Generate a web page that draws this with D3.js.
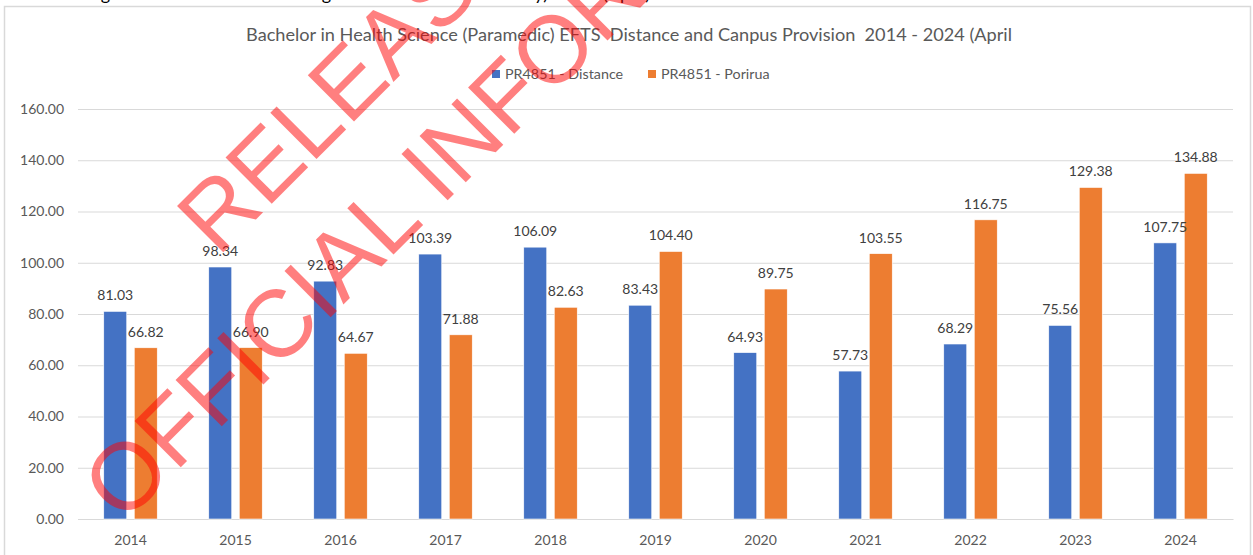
<!DOCTYPE html>
<html>
<head>
<meta charset="utf-8">
<script src="https://cdn.jsdelivr.net/npm/d3@7"></script>
<style>
  html, body { margin: 0; padding: 0; background: #fff; }
  svg { display: block; }
</style>
</head>
<body>
<svg id="chart" width="1253" height="555"></svg>
<script>
const categories = ["2014","2015","2016","2017","2018","2019","2020","2021","2022","2023","2024"];
const distance = [81.03, 98.34, 92.83, 103.39, 106.09, 83.43, 64.93, 57.73, 68.29, 75.56, 107.75];
const porirua  = [66.82, 66.90, 64.67, 71.88, 82.63, 104.40, 89.75, 103.55, 116.75, 129.38, 134.88];
const seriesNames = ["PR4851 - Distance", "PR4851 - Porirua"];
const yTicks = [0, 20, 40, 60, 80, 100, 120, 140, 160];
const titleText = "Bachelor in Health Science (Paramedic) EFTS  Distance and Canpus Provision  2014 - 2024 (April";

const colors = ["#4472C4", "#ED7D31"];
const svg = d3.select("#chart");
const m = {left: 78, right: 1233, top: 109, bottom: 519};
const font = "Lato, 'Liberation Sans', sans-serif";

// cut-off page text above the chart (only descenders visible)
const topText = svg.append("text").attr("y", -0.5).attr("font-family", font)
  .attr("font-size", 18).attr("fill", "#000").attr("text-anchor", "end");
[["Figure 4: Learning", 110], ["Nursing", 331], ["Delivery)", 548], ["(April)", 650]].forEach(([t, x]) => {
  topText.append("tspan").attr("x", x).text(t);
});

// chart border
svg.append("rect").attr("x", 4.5).attr("y", 6.5).attr("width", 1246).attr("height", 570)
  .attr("fill", "#fff").attr("stroke", "#d9d9d9").attr("stroke-width", 1.5);

const x = d3.scaleBand().domain(categories).range([m.left, m.right]).padding(0);
const xs = d3.scaleBand().domain(seriesNames).range([0, x.bandwidth()]).paddingInner(0.246).paddingOuter(0.845);
const y = d3.scaleLinear().domain([0, 160]).range([m.bottom, m.top]);

// gridlines
const yAxis = d3.axisLeft(y).tickValues(yTicks).tickSize(-(m.right - m.left)).tickFormat(d => d.toFixed(2)).tickPadding(14);
const gy = svg.append("g").attr("transform", `translate(${m.left},0)`).call(yAxis);
gy.select(".domain").remove();
gy.selectAll(".tick line").attr("stroke", "#d9d9d9").attr("stroke-width", 1.2);
gy.selectAll(".tick text").attr("font-family", font).attr("font-size", 14).attr("fill", "#595959");

// x axis
const xAxis = d3.axisBottom(x).tickSize(0).tickPadding(16);
const gx = svg.append("g").attr("transform", `translate(0,${m.bottom})`).call(xAxis);
gx.select(".domain").attr("stroke", "#d9d9d9").attr("stroke-width", 1.2);
gx.selectAll(".tick text").attr("font-family", font).attr("font-size", 14).attr("fill", "#595959");

// bars
const data = categories.map((c, i) => ({c, vals: [distance[i], porirua[i]]}));
const groups = svg.append("g").selectAll("g").data(data).join("g")
  .attr("transform", d => `translate(${x(d.c)},0)`);
groups.selectAll("rect").data(d => d.vals.map((v, k) => ({v, k}))).join("rect")
  .attr("x", d => xs(seriesNames[d.k]))
  .attr("width", xs.bandwidth())
  .attr("y", d => y(d.v))
  .attr("height", d => y(0) - y(d.v))
  .attr("fill", d => colors[d.k])
  .attr("stroke", "#fff").attr("stroke-width", 0.6);
groups.selectAll("text").data(d => d.vals.map((v, k) => ({v, k}))).join("text")
  .attr("x", d => xs(seriesNames[d.k]) + xs.bandwidth() / 2)
  .attr("y", d => y(d.v) - 11)
  .attr("text-anchor", "middle")
  .attr("font-family", font).attr("font-size", 14).attr("fill", "#404040")
  .text(d => d.v.toFixed(2));

// title
svg.append("text").attr("x", 629).attr("y", 41).attr("text-anchor", "middle")
  .style("white-space", "pre").attr("xml:space", "preserve")
  .attr("font-family", font).attr("font-size", 18.15).attr("fill", "#595959").text(titleText);

// legend
const legX = [492, 648];
seriesNames.forEach((s, k) => {
  svg.append("rect").attr("x", legX[k]).attr("y", 70).attr("width", 8).attr("height", 8).attr("fill", colors[k]);
  svg.append("text").attr("x", legX[k] + 13).attr("y", 79)
    .attr("font-family", font).attr("font-size", 14.3).attr("fill", "#595959").text(s);
});

// watermark
const wm = svg.append("g").attr("transform", "translate(123,525) rotate(-45)")
  .attr("font-family", "'Liberation Sans', Arial, sans-serif").attr("font-size", 95)
  .attr("fill", "rgba(255,0,0,0.5)");
wm.append("text").attr("x", 256).attr("y", -122).text("RELEASED UNDER THE");
wm.append("text").attr("x", 0).attr("y", 0).text("OFFICIAL INFORMATION ACT");
</script>
</body>
</html>
